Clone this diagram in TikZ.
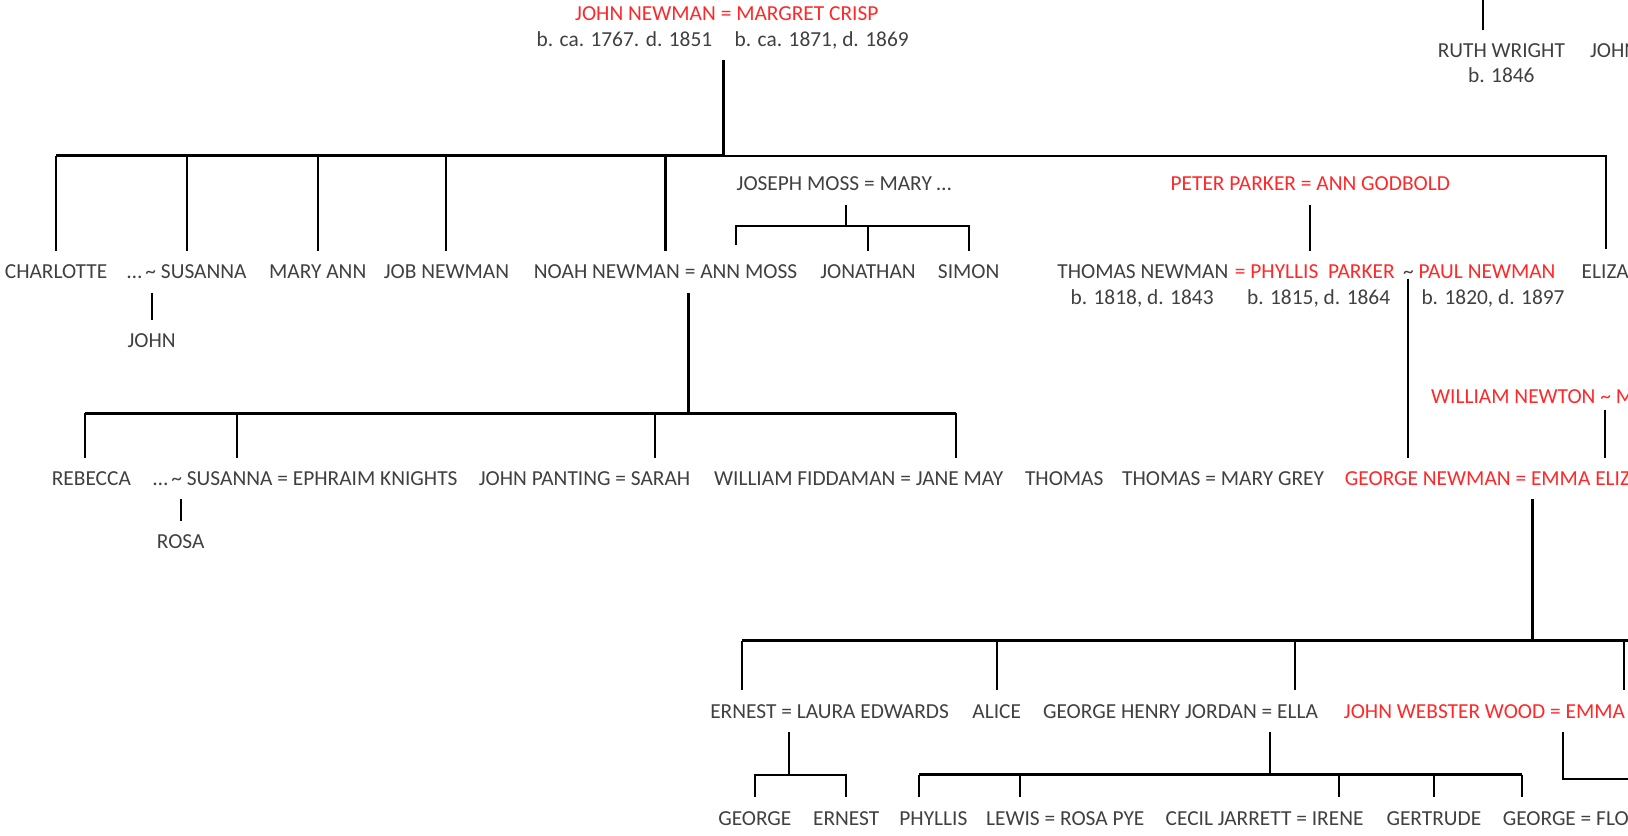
\documentclass[tikz,border=0pt]{standalone}
\usepackage{fontspec}
\setmainfont{Carlito}
\definecolor{namegray}{RGB}{64,64,64}
\definecolor{namered}{RGB}{255,40,40}
\newcommand{\treefont}{\fontsize{10.3pt}{12pt}\selectfont}
\newcommand{\wavy}{\textasciitilde}

\begin{document}
\begin{tikzpicture}[x=0.5pt, y=-0.5pt,
  person/.style={text=namegray, font=\treefont, inner xsep=0pt, inner ysep=6.5pt, text height=6.6pt, text depth=0pt, anchor=base},
  redperson/.style={person, text=namered},
  link/.style={line width=1pt},
  mainlink/.style={line width=1.4pt}
]
  \useasboundingbox (0,0) rectangle (1568,805);
  \clip (0,0) rectangle (1568,805);

  % first generation
  \node[redperson] (jn) at (700,19.6) {JOHN NEWMAN = MARGRET CRISP};
  \node[person] (jndates) at (696,44.5) {b. ca. 1767. d. 1851\hspace{1.05em}b. ca. 1871, d. 1869};
  \node[person] (ruth) at (1446,55.6) {RUTH WRIGHT};
  \node[person] (ruthdates) at (1446,79.6) {b. 1846};
  \node[person, anchor=base west] (johnw) at (1531,55.6) {JOHN};
  \coordinate (ruthtop) at (1428,0);
  \draw[link] (ruthtop) -- (ruthtop |- ruth.north);

  % children of John Newman
  \node[person] (charlotte) at (54,268.6) {CHARLOTTE};
  \node[person] (susanna) at (180,268.6) {…\,\wavy{} SUSANNA};
  \node[person] (maryann) at (306,268.6) {MARY ANN};
  \node[person] (job) at (430,268.6) {JOB NEWMAN};
  \node[person] (noah) at (641,268.6) {NOAH NEWMAN = ANN MOSS};
  \node[person, anchor=base west] (eliza) at (1523,268.6) {ELIZA};
  \coordinate (bar1) at (697,150);
  \coordinate (elizadrop) at (1547,240);
  \draw[mainlink] (jndates.south -| bar1) -- (bar1) -- (charlotte.north |- bar1);
  \draw[link] (bar1) -- (elizadrop |- bar1) -- (elizadrop);
  \draw[link] (charlotte.north |- bar1) -- (charlotte.north);
  \draw[link] (susanna.north |- bar1) -- (susanna.north);
  \draw[link] (maryann.north |- bar1) -- (maryann.north);
  \draw[link] (job.north |- bar1) -- (job.north);
  \draw[link] (noah.north |- bar1) -- (noah.north);

  % Moss family
  \node[person] (joseph) at (813,183.6) {JOSEPH MOSS = MARY …};
  \node[person] (jonathan) at (836,268.6) {JONATHAN};
  \node[person] (simon) at (933,268.6) {SIMON};
  \coordinate (bar6) at (815,218);
  \coordinate (anndrop) at (709,236);
  \draw[link] (joseph.south -| bar6) -- (bar6);
  \draw[link] (anndrop) -- (anndrop |- bar6) -- (simon.north |- bar6) -- (simon.north);
  \draw[link] (jonathan.north |- bar6) -- (jonathan.north);

  % Parker family
  \node[redperson] (peter) at (1262,183.6) {PETER PARKER = ANN GODBOLD};
  \node[person, anchor=base west] (thomasn) at (1018,268.6) {THOMAS NEWMAN};
  \node[redperson, anchor=base west] (phyllis) at (1189,268.6) {= PHYLLIS\ \ PARKER};
  \node[person, anchor=base west] (tilde) at (1351,268.6) {\wavy};
  \node[redperson, anchor=base west] (paul) at (1366,268.6) {PAUL NEWMAN};
  \node[person] (tndates) at (1100,293.6) {b. 1818, d. 1843};
  \node[person] (phdates) at (1270,293.6) {b. 1815, d. 1864};
  \node[person] (pauldates) at (1438,293.6) {b. 1820, d. 1897};
  \draw[link] (peter.south) -- (peter.south |- phyllis.north);

  % grandchildren
  \node[person] (john2) at (146,334.6) {JOHN};
  \draw[link] (john2.north |- susanna.south) -- (john2.north);

  \node[person] (rebecca) at (88,467.6) {REBECCA};
  \node[person] (susanna2) at (294,467.6) {…\,\wavy{} SUSANNA = EPHRAIM KNIGHTS};
  \node[person] (panting) at (563,467.6) {JOHN PANTING = SARAH};
  \node[person] (fiddaman) at (827,467.6) {WILLIAM FIDDAMAN = JANE MAY};
  \node[person] (thomas) at (1025,467.6) {THOMAS};
  \node[person] (thomasg) at (1178,467.6) {THOMAS = MARY GREY};
  \node[redperson, anchor=base west] (georgen) at (1295,467.6) {GEORGE NEWMAN = EMMA ELIZ};
  \node[redperson, anchor=base west] (newton) at (1378,388.6) {WILLIAM NEWTON \wavy{} M};

  \coordinate (bar2) at (663,398);
  \coordinate (b2a) at (82,398);
  \coordinate (b2b) at (228,398);
  \coordinate (b2c) at (631,398);
  \coordinate (b2d) at (921,398);
  \draw[mainlink] (noah.south -| bar2) -- (bar2);
  \draw[mainlink] (b2a) -- (b2d);
  \draw[link] (b2a) -- (b2a |- rebecca.north);
  \draw[link] (b2b) -- (b2b |- susanna2.north);
  \draw[link] (b2c) -- (b2c |- panting.north);
  \draw[link] (b2d) -- (b2d |- fiddaman.north);
  \draw[link] (tilde.base) -- (tilde.base |- georgen.north);
  \coordinate (newtondrop) at (1546,395);
  \draw[link] (newtondrop) -- (newtondrop |- georgen.north);

  \node[person] (rosa) at (174,528.6) {ROSA};
  \draw[link] (rosa.north |- susanna2.south) -- (rosa.north);

  % children of George Newman
  \node[person] (ernest) at (799,691.6) {ERNEST = LAURA EDWARDS};
  \node[person] (alice) at (960,691.6) {ALICE};
  \node[person] (georgeh) at (1137,691.6) {GEORGE HENRY JORDAN = ELLA};
  \node[redperson, anchor=base west] (jww) at (1294,691.6) {JOHN WEBSTER WOOD = EMMA};

  \coordinate (bar3) at (1476,617);
  \coordinate (b3a) at (715,617);
  \coordinate (b3b) at (960,617);
  \coordinate (b3c) at (1247,617);
  \coordinate (b3d) at (1564,617);
  \coordinate (b3end) at (1580,617);
  \draw[mainlink] (bar3 |- georgen.south) -- (bar3);
  \draw[mainlink] (b3a) -- (b3end);
  \draw[link] (b3a) -- (b3a |- ernest.north);
  \draw[link] (b3b) -- (alice.north);
  \draw[link] (b3c) -- (b3c |- georgeh.north);
  \draw[link] (b3d) -- (b3d |- jww.north);

  % last generation
  \node[person] (george1) at (727,794.6) {GEORGE};
  \node[person] (ernest2) at (815,794.6) {ERNEST};
  \node[person] (phyllis2) at (899,794.6) {PHYLLIS};
  \node[person] (lewis) at (1026,794.6) {LEWIS = ROSA PYE};
  \node[person] (cecil) at (1218,794.6) {CECIL JARRETT = IRENE};
  \node[person] (gertrude) at (1381,794.6) {GERTRUDE};
  \node[person, anchor=base west] (georgef) at (1447,794.6) {GEORGE = FLO};

  \coordinate (bar4) at (760,746);
  \draw[link] (bar4 |- ernest.south) -- (bar4);
  \draw[link] (george1.north) -- (george1.north |- bar4) -- (ernest2.north |- bar4) -- (ernest2.north);

  \coordinate (bar5) at (1223,746);
  \coordinate (b5a) at (885,746);
  \coordinate (b5b) at (982,746);
  \coordinate (b5c) at (1290,746);
  \coordinate (b5d) at (1466,746);
  \draw[link] (bar5 |- georgeh.south) -- (bar5);
  \draw[mainlink] (b5a) -- (b5d);
  \draw[link] (b5a) -- (b5a |- phyllis2.north);
  \draw[link] (b5b) -- (b5b |- lewis.north);
  \draw[link] (b5c) -- (b5c |- cecil.north);
  \draw[link] (gertrude.north |- bar5) -- (gertrude.north);
  \draw[link] (b5d) -- (b5d |- georgef.north);

  \coordinate (bar7) at (1505,750);
  \coordinate (bar7end) at (1580,750);
  \draw[link] (bar7 |- jww.south) -- (bar7) -- (bar7end);
\end{tikzpicture}
\end{document}
